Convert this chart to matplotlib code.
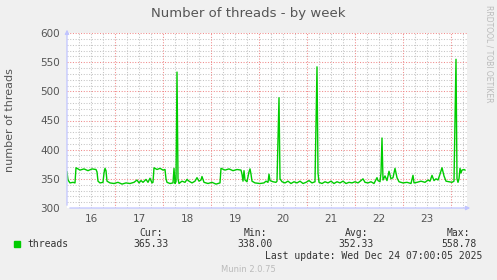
import numpy as np
import matplotlib
matplotlib.use("Agg")
import matplotlib.pyplot as plt

# hours since Dec 16 00:00, 30-min samples
hours = [0, 0.5, 1.5, 3, 4, 4.5, 6.5, 8.5, 10.5, 12.5, 14.5, 15, 15.5, 16.5, 18, 18.5,
         19, 19.5, 20, 21.5, 23.5, 25.5, 27.5, 29.5, 31.5, 33.5, 35, 36, 37, 38, 39.5,
         40.5, 41.5, 42.5, 43, 43.5, 45, 46.5, 48, 49, 49.5, 50, 51.5, 53, 53.5, 54,
         54.5, 55, 55.5, 56, 57.5, 59, 60, 61, 62.5, 64, 65, 66, 67, 67.5, 68.5, 70.5,
         72.5, 74.5, 76.5, 77, 79, 81, 83, 85, 87, 87.5, 88, 88.5, 89, 90, 91, 91.5,
         92, 92.5, 94, 96.5, 98.5, 99.5, 100.5, 101, 101.5, 103, 104.5, 105, 106,
         106.5, 107.5, 109, 110.5, 112, 113.5, 115, 116.5, 118, 119.5, 121, 122.5,
         124, 125, 125.5, 126, 127.5, 129, 130.5, 132, 133.5, 135, 136.5, 138, 139.5,
         141, 142.5, 144, 145.5, 147, 148, 149, 150.5, 152, 153.5, 155, 155.5, 156.5,
         157, 157.5, 158, 159, 160, 161, 162, 163, 164, 165, 166, 168, 170, 172, 173,
         173.5, 175, 177, 179, 180.5, 181.5, 182.5, 183.5, 184.5, 185.5, 186.5, 187.5,
         188.5, 189.5, 191, 192.5, 193.5, 194.5, 195, 195.5, 196, 196.5, 197, 197.5,
         198.5, 199]
threads = [362, 348, 343, 344, 343, 369, 365, 367, 364, 367, 366, 362, 346, 343, 344, 360,
           368, 364, 346, 343, 342, 344, 341, 343, 342, 344, 348, 343, 347, 344, 349,
           344, 351, 343, 344, 369, 366, 368, 365, 366, 350, 344, 342, 343, 368, 342,
           345, 533, 350, 342, 346, 344, 349, 346, 343, 346, 352, 346, 348, 354, 344, 342,
           344, 341, 343, 368, 365, 367, 364, 366, 365, 358, 346, 364, 348, 345, 362, 367,
           358, 346, 343, 342, 343, 346, 344, 358, 347, 345, 344, 346, 489,
           350, 345, 343, 346, 342, 345, 343, 346, 342, 344, 347, 343,
           345, 542, 360, 344, 342, 345, 343, 346, 342, 345, 343, 346, 342,
           344, 343, 345, 343, 347, 350, 344, 343, 345, 342, 352, 347, 345,
           360, 420, 348, 355, 347, 363, 350, 352, 368, 352, 345, 343, 344, 342, 356,
           343, 344, 346, 344, 348, 346, 356, 347, 350, 348, 358, 369,
           355, 346, 345, 344, 346, 555, 350, 344, 350, 368, 360, 365,
           366, 365]

day_labels = ["16", "17", "18", "19", "20", "21", "22", "23"]
y_ticks = [300, 350, 400, 450, 500, 550, 600]
stats_names = ["Cur:", "Min:", "Avg:", "Max:"]
stats_values = ["365.33", "338.00", "352.33", "558.78"]

W, H = 497, 280
fig = plt.figure(figsize=(W / 100, H / 100), dpi=100, facecolor="#F0F0F0")
ax = fig.add_axes([67 / W, (H - 208) / H, 400 / W, 175 / H])
ax.set_facecolor("white")
ax.set_xlim(0, 200)
ax.set_ylim(300, 600)

grid_minor = "#C4C4C4"
grid_major = "#F08A8A"
dot = (0, (1, 1.6))
for h in range(0, 201, 6):
    if h % 24 == 0:
        if h > 0:
            ax.axvline(h, color=grid_major, lw=0.75, ls=dot, zorder=1)
    else:
        ax.axvline(h, color=grid_minor, lw=0.75, ls=dot, zorder=0)
for v in range(310, 601, 10):
    if v % 50 == 0:
        ax.axhline(v, color=grid_major, lw=0.75, ls=dot, zorder=1)
    else:
        ax.axhline(v, color=grid_minor, lw=0.75, ls=dot, zorder=0)

ax.plot(hours, threads, color="#00CC00", lw=1.0, zorder=3)

for s in ax.spines.values():
    s.set_visible(False)
axis_col = "#C0C4FF"
ax.annotate("", xy=(0, 1.035), xytext=(0, 0), xycoords="axes fraction",
            arrowprops=dict(arrowstyle="-|>", color=axis_col, lw=0.9, mutation_scale=6))
ax.annotate("", xy=(1.015, 0), xytext=(0, 0), xycoords="axes fraction",
            arrowprops=dict(arrowstyle="-|>", color=axis_col, lw=0.9, mutation_scale=6))

txt = "#555555"
ax.set_yticks(y_ticks)
ax.set_yticklabels([str(v) for v in y_ticks])
ax.set_xticks([12 + 24 * i for i in range(len(day_labels))])
ax.set_xticklabels(day_labels)
ax.tick_params(length=0, labelsize=7.5, colors=txt, pad=5)
ax.tick_params(axis="x", pad=4)

fig.text(248 / W, 1 - 13 / H, "Number of threads - by week", ha="center", va="center",
         fontsize=9.5, color=txt)
fig.text(10 / W, 1 - 120 / H, "number of threads", rotation=90, ha="center", va="center",
         fontsize=8, color=txt)
fig.text(489 / W, 1 - 5 / H, "RRDTOOL / TOBI OETIKER", rotation=270, ha="center", va="top",
         fontsize=5.5, color="#BBBBBB")

mono = "DejaVu Sans Mono"
fig.patches.append(plt.Rectangle((14 / W, 1 - 247 / H), 6 / W, 6 / H,
                                 transform=fig.transFigure, color="#00CC00"))
fig.text(27 / W, 1 - 244 / H, "threads", ha="left", va="center", fontsize=7,
         family=mono, color="#333333")
name_right = [163, 267, 368, 470]
val_right = [169, 273, 374, 477]
for name, val, nx, vx in zip(stats_names, stats_values, name_right, val_right):
    fig.text(nx / W, 1 - 233 / H, name, ha="right", va="center", fontsize=7,
             family=mono, color="#333333")
    fig.text(vx / W, 1 - 244 / H, val, ha="right", va="center", fontsize=7,
             family=mono, color="#333333")
fig.text(482 / W, 1 - 256 / H, "Last update: Wed Dec 24 07:00:05 2025", ha="right",
         va="center", fontsize=7, family=mono, color="#333333")
fig.text(248 / W, 1 - 269 / H, "Munin 2.0.75", ha="center", va="center", fontsize=6,
         color="#BBBBBB")

fig.savefig("out.png", dpi=100, facecolor=fig.get_facecolor())
